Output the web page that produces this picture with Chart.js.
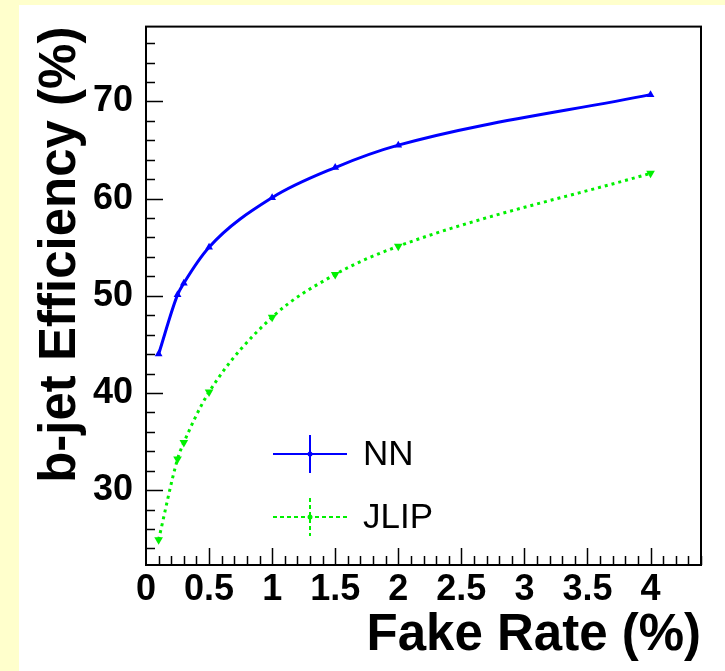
<!DOCTYPE html>
<html>
<head>
<meta charset="utf-8">
<title>b-jet Efficiency vs Fake Rate</title>
<script src="https://cdn.jsdelivr.net/npm/chart.js@4.4.1/dist/chart.umd.min.js"></script>
<style>
  html, body { margin: 0; padding: 0; background: #ffffcc; }
  canvas { display: block; }
</style>
</head>
<body>
<canvas id="c" width="725" height="671"></canvas>
<script>
// Fake rate (%) at each working point
const fakeRate = [0.1, 0.25, 0.3, 0.5, 1, 1.5, 2, 4];
// b-jet efficiency (%) of the neural-network tagger
const nnEff = [44.0, 50.1, 51.3, 55.0, 60.1, 63.2, 65.5, 70.7];
// b-jet efficiency (%) of the JLIP tagger
const jlipEff = [24.9, 33.2, 34.9, 40.1, 47.8, 52.2, 55.1, 62.6];
// Labelled axis ticks
const xTickValues = [0, 0.5, 1, 1.5, 2, 2.5, 3, 3.5, 4];
const yTickValues = [30, 40, 50, 60, 70];
const seriesNames = ['NN', 'JLIP'];

const FONT = '"Liberation Sans", Arial, Helvetica, sans-serif';

const points = (xs, ys) => xs.map((x, i) => ({ x: x, y: ys[i] }));

// Yellow page border with a white pad behind the plot
const padPlugin = {
  id: 'pad',
  beforeDraw(chart) {
    const ctx = chart.ctx;
    ctx.save();
    ctx.fillStyle = '#ffffcc';
    ctx.fillRect(0, 0, chart.width, chart.height);
    ctx.fillStyle = '#ffffff';
    ctx.fillRect(19, 5, chart.width - 19, chart.height - 5);
    ctx.restore();
  }
};

// Plot frame with inward major/minor ticks on the left and bottom axes
const framePlugin = {
  id: 'frame',
  afterDraw(chart) {
    const ctx = chart.ctx;
    const a = chart.chartArea;
    const xs = chart.scales.x, ys = chart.scales.y;
    ctx.save();
    ctx.strokeStyle = '#000';
    ctx.lineWidth = 1.5;
    ctx.beginPath();
    // y ticks: minor every 2, major at labelled values
    for (let v = Math.ceil(ys.min / 2) * 2; v <= ys.max; v += 2) {
      const y = Math.round(ys.getPixelForValue(v)) + 0.5;
      const len = yTickValues.includes(v) ? 17 : 9;
      ctx.moveTo(a.left, y);
      ctx.lineTo(a.left + len, y);
    }
    // x ticks: minor every 0.1, major at labelled values
    for (let k = 1; k * 0.1 <= xs.max + 1e-9; k++) {
      const v = k / 10;
      const x = Math.round(xs.getPixelForValue(v)) + 0.5;
      const major = xTickValues.some(t => Math.abs(t - v) < 1e-6);
      const len = major ? 17 : 9;
      ctx.moveTo(x, a.bottom);
      ctx.lineTo(x, a.bottom - len);
    }
    ctx.stroke();
    ctx.lineWidth = 2;
    ctx.strokeRect(a.left, a.top, a.right - a.left, a.bottom - a.top);
    ctx.restore();
  }
};

// Legend drawn inside the plot: line with an error-bar cross and a marker
const legendPlugin = {
  id: 'innerLegend',
  afterDraw(chart) {
    const ctx = chart.ctx;
    const rows = [{ y: 454 }, { y: 517 }];
    ctx.save();
    chart.data.datasets.forEach((ds, i) => {
      const y = rows[i].y;
      const x0 = 273, x1 = 347, xc = 310;
      ctx.strokeStyle = ds.borderColor;
      ctx.lineWidth = 2;
      ctx.setLineDash(ds.borderDash && ds.borderDash.length ? [4, 3] : []);
      ctx.beginPath();
      ctx.moveTo(x0, y); ctx.lineTo(x1, y);
      ctx.moveTo(xc, y - 19); ctx.lineTo(xc, y + 19);
      ctx.stroke();
      ctx.setLineDash([]);
      ctx.fillStyle = ds.borderColor;
      ctx.beginPath();
      ctx.arc(xc, y, 2.5, 0, Math.PI * 2);
      ctx.fill();
      ctx.fillStyle = '#000';
      ctx.font = '35px ' + FONT;
      ctx.textBaseline = 'middle';
      ctx.textAlign = 'left';
      ctx.fillText(ds.label, 363, y + 1);
    });
    ctx.restore();
  }
};

new Chart(document.getElementById('c'), {
  type: 'line',
  data: {
    datasets: [
      {
        label: seriesNames[0],
        data: points(fakeRate, nnEff),
        borderColor: '#0000ff',
        backgroundColor: '#0000ff',
        borderWidth: 3,
        cubicInterpolationMode: 'monotone',
        pointStyle: 'triangle',
        pointRadius: 4.5,
        pointBorderWidth: 0,
        fill: false
      },
      {
        label: seriesNames[1],
        data: points(fakeRate, jlipEff),
        borderColor: '#00f000',
        backgroundColor: '#00f000',
        borderWidth: 3,
        borderDash: [3, 4],
        cubicInterpolationMode: 'monotone',
        pointStyle: 'triangle',
        pointRotation: 180,
        pointRadius: 5,
        pointBorderWidth: 0,
        fill: false
      }
    ]
  },
  options: {
    responsive: false,
    devicePixelRatio: 1,
    animation: false,
    layout: { padding: { left: 0, top: 25, right: 24, bottom: 0 } },
    plugins: {
      legend: { display: false },
      tooltip: { enabled: false }
    },
    scales: {
      x: {
        type: 'linear',
        min: 0,
        max: 4.4,
        grid: { display: false },
        border: { display: false },
        afterBuildTicks(scale) { scale.ticks = xTickValues.map(v => ({ value: v })); },
        afterFit(scale) { scale.height = 106; },
        ticks: {
          padding: -5,
          maxRotation: 0,
          autoSkip: false,
          color: '#000',
          font: { family: FONT, size: 36, weight: 'bold' },
          callback: v => String(v)
        },
        title: {
          display: true,
          text: 'Fake Rate (%)',
          align: 'end',
          color: '#000',
          font: { family: FONT, size: 51, weight: 'bold', lineHeight: 1.2 },
          padding: { top: 0, bottom: 4 }
        }
      },
      y: {
        type: 'linear',
        min: 22.3,
        max: 77.7,
        grid: { display: false },
        border: { display: false },
        afterBuildTicks(scale) { scale.ticks = yTickValues.map(v => ({ value: v })); },
        afterFit(scale) { scale.width = 146; },
        ticks: {
          padding: 5,
          autoSkip: false,
          color: '#000',
          font: { family: FONT, size: 36, weight: 'bold' },
          callback: v => String(v)
        },
        title: {
          display: true,
          text: 'b-jet Efficiency (%)',
          align: 'end',
          color: '#000',
          font: { family: FONT, size: 51, weight: 'bold', lineHeight: 1.2 },
          padding: { top: 30, bottom: 0 }
        }
      }
    }
  },
  plugins: [padPlugin, framePlugin, legendPlugin]
});
</script>
</body>
</html>
